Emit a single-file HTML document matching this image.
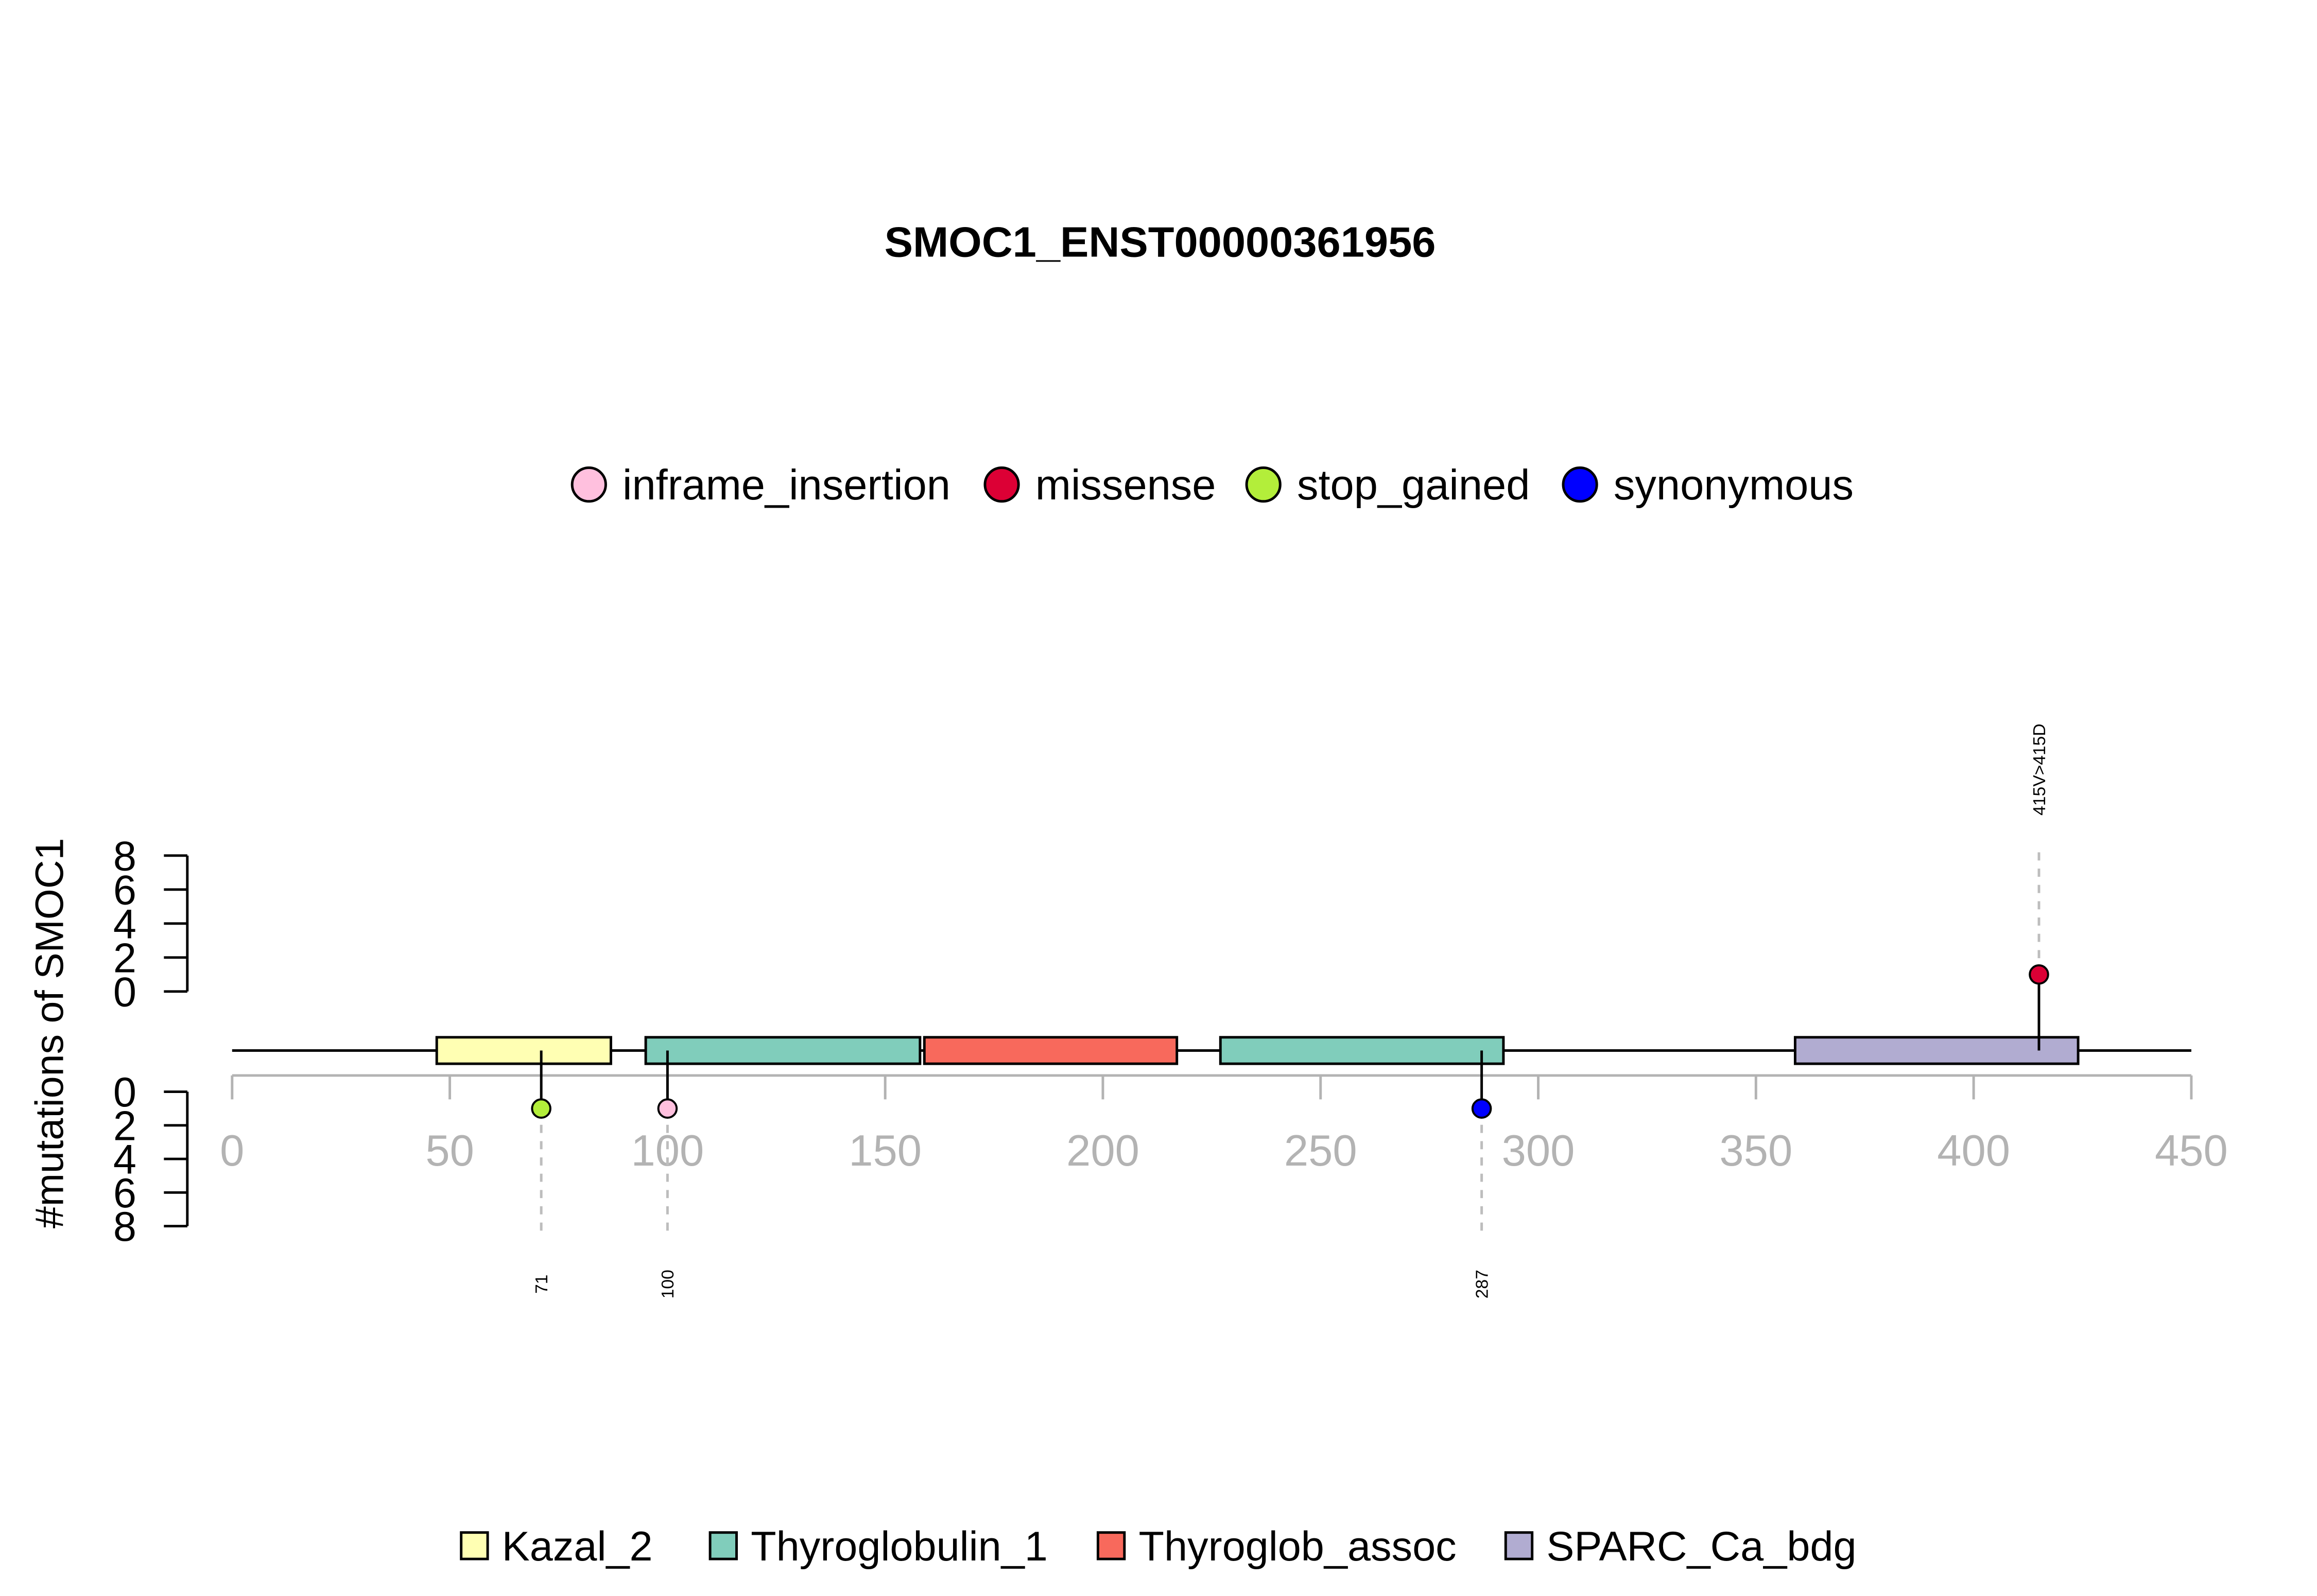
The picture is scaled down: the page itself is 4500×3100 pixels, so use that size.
<!DOCTYPE html>
<html><head><meta charset="utf-8"><style>html,body{margin:0;padding:0;background:#fff}svg{display:block}text{font-family:"Liberation Sans",Arial,sans-serif}</style></head>
<body>
<svg id="chart" width="4500" height="3100" viewBox="0 0 4500 3100" xmlns="http://www.w3.org/2000/svg">
<g transform="scale(0.9886)">
<text x="2279" y="504" font-size="84" font-weight="bold" text-anchor="middle">SMOC1_ENST00000361956</text>
<text transform="translate(124,2030) rotate(-90)" font-size="78" text-anchor="middle">#mutations of SMOC1</text>
<g id="plot"></g>
</g>
</svg>
<script>
const xTicks = [0,50,100,150,200,250,300,350,400,450];
const yTicks = [0,2,4,6,8];
const domainNames = ["Kazal_2","Thyroglobulin_1","Thyroglob_assoc","Thyroglobulin_1","SPARC_Ca_bdg"];
const domainStart = [47,95,159,227,359];
const domainEnd = [87,158,217,292,424];
const mutPos = [71,100,287,415];
const mutCount = [1,1,1,1];
const mutType = ["stop_gained","inframe_insertion","synonymous","missense"];
const mutSide = ["down","down","down","up"];
const mutLabel = ["71","100","287","415V>415D"];
const mutTypes = ["inframe_insertion","missense","stop_gained","synonymous"];
const mutColors = ["#FFC0DE","#DC0035","#B3EE3A","#0000FF"];
const domLegend = ["Kazal_2","Thyroglobulin_1","Thyroglob_assoc","SPARC_Ca_bdg"];
const domColors = ["#FFFFB3","#80CDBB","#F8695C","#B1ACD1"];

const NS="http://www.w3.org/2000/svg";
const g=document.getElementById('plot');
function mk(tag,attrs,parent){const e=document.createElementNS(NS,tag);for(const k in attrs)e.setAttribute(k,attrs[k]);(parent||g).appendChild(e);return e;}
const xS=v=>456+v*(4305-456)/450;
const yUp=v=>1948-v*(1948-1681)/8;
const yDn=v=>2145+v*(2409-2145)/8;
const backY=2064, axisY=2113;

let e=mk('line',{x1:xS(0),x2:xS(450),y1:axisY,y2:axisY,stroke:'#B3B3B3','stroke-width':5});


xTicks.forEach(t=>{
  let l=mk('line',{x1:xS(t),x2:xS(t),y1:axisY,y2:2160,stroke:'#B3B3B3','stroke-width':5});
  
  
  let tx=mk('text',{x:xS(t),y:2290,'font-size':86,fill:'#B3B3B3','text-anchor':'middle'});
  tx.textContent=t;
  
  
});
[[yUp,'upper'],[yDn,'lower']].forEach(([f,n])=>{
  let a=mk('line',{x1:368,x2:368,y1:f(0),y2:f(8),stroke:'#000','stroke-width':5});
  
  
  yTicks.forEach(t=>{
    let l=mk('line',{x1:322,x2:368,y1:f(t),y2:f(t),stroke:'#000','stroke-width':5});
    
    
    let tx=mk('text',{x:268,y:f(t)+29,'font-size':82,'text-anchor':'end'});
    tx.textContent=t;
    
    
  });
});
e=mk('line',{x1:xS(0),x2:xS(450),y1:backY,y2:backY,stroke:'#000','stroke-width':5});


domainNames.forEach((d,i)=>{
  let r=mk('rect',{x:xS(domainStart[i]),y:2038,width:xS(domainEnd[i])-xS(domainStart[i]),height:52,fill:domColors[domLegend.indexOf(d)],stroke:'#000','stroke-width':5});
  
  
});
mutPos.forEach((p,i)=>{
  const x=xS(p);const up=mutSide[i]==='up';
  const cy=up?yUp(mutCount[i]):yDn(mutCount[i]);
  let dl=mk('line',{x1:x,x2:x,y1:cy,y2:up?1669:2424,stroke:'#BDBDBD','stroke-width':5,'stroke-dasharray':'16 16'});
  
  
  let st=mk('line',{x1:x,x2:x,y1:backY,y2:cy,stroke:'#000','stroke-width':5});
  
  
  let c=mk('circle',{cx:x,cy:cy,r:18,fill:mutColors[mutTypes.indexOf(mutType[i])],stroke:'#000','stroke-width':4});
  
  
  const ly=up?1512:2523;
  let t=mk('text',{x:0,y:0,'font-size':34,'text-anchor':'middle',transform:`translate(${x+12},${ly}) rotate(-90)`});
  t.textContent=mutLabel[i];
  
  
});
const mlX=[1157,1968,2482,3104];
mutTypes.forEach((m,i)=>{
  let c=mk('circle',{cx:mlX[i],cy:952,r:33,fill:mutColors[i],stroke:'#000','stroke-width':5});
  
  
  let t=mk('text',{x:mlX[i]+66,y:981,'font-size':84});
  t.textContent=m;
  
  
});
const dlX=[906,1395,2157,2958];
domLegend.forEach((d,i)=>{
  let r=mk('rect',{x:dlX[i],y:3011,width:52,height:52,fill:domColors[i],stroke:'#000','stroke-width':5});
  
  
  let t=mk('text',{x:dlX[i]+80,y:3066,'font-size':82});
  t.textContent=d;
  
  
});
</script>
</body></html>
